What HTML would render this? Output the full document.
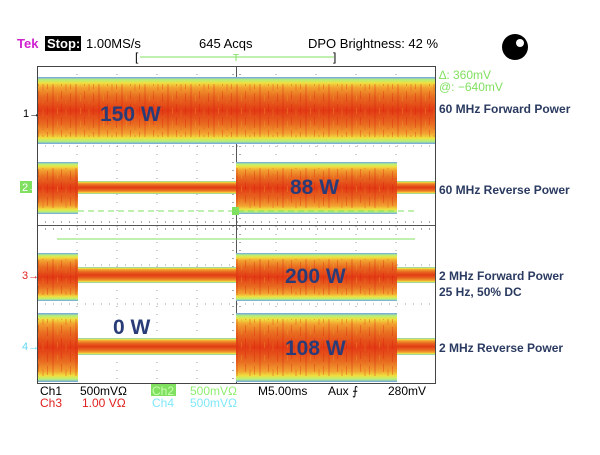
<!DOCTYPE html>
<html><head><meta charset="utf-8"><style>
body{margin:0;background:#fff;}
svg text{font-family:"Liberation Sans",sans-serif;}
</style></head><body>
<svg width="600" height="450" xmlns="http://www.w3.org/2000/svg">
<defs>
<linearGradient id="band" x1="0" y1="0" x2="0" y2="1">
<stop offset="0" stop-color="#6fa0e8"/>
<stop offset="0.04" stop-color="#b6f07a"/>
<stop offset="0.09" stop-color="#f0e040"/>
<stop offset="0.16" stop-color="#f2a030"/>
<stop offset="0.3" stop-color="#e86a20"/>
<stop offset="0.5" stop-color="#e23a14"/>
<stop offset="0.7" stop-color="#e86a20"/>
<stop offset="0.84" stop-color="#f2a030"/>
<stop offset="0.91" stop-color="#f0e040"/>
<stop offset="0.96" stop-color="#b6f07a"/>
<stop offset="1" stop-color="#6fa0e8"/>
</linearGradient>
<pattern id="noise" width="23" height="13" patternUnits="userSpaceOnUse">
<rect x="1" y="2" width="1" height="9" fill="#d81808" opacity="0.3"/>
<rect x="6" y="0" width="2" height="13" fill="#d81808" opacity="0.2"/>
<rect x="11" y="4" width="1" height="6" fill="#f0a030" opacity="0.35"/>
<rect x="15" y="0" width="1" height="8" fill="#d81808" opacity="0.3"/>
<rect x="19" y="5" width="2" height="8" fill="#e86a20" opacity="0.3"/>
</pattern>
</defs>

<!-- header -->
<text x="17" y="48" font-size="13" font-weight="bold" fill="#d020d0">Tek</text>
<rect x="45" y="36" width="36" height="15" fill="#000"/>
<text x="47" y="48" font-size="13" font-weight="bold" fill="#fff">Stop:</text>
<text x="86" y="48" font-size="13" fill="#000">1.00MS/s</text>
<text x="199" y="48" font-size="13" fill="#000">645 Acqs</text>
<text x="308" y="48" font-size="13" fill="#000">DPO Brightness: 42 %</text>
<text x="135" y="61" font-size="12" fill="#000">[</text>
<text x="333" y="61" font-size="12" fill="#000">]</text>
<line x1="140" y1="57" x2="334" y2="57" stroke="#80e060" stroke-width="1"/>
<text x="233" y="61" font-size="10" fill="#80e060">T</text>
<circle cx="515" cy="47" r="13" fill="#000"/>
<circle cx="520" cy="43" r="4" fill="#fff"/>

<!-- graticule -->
<g stroke="#999" stroke-width="1" stroke-dasharray="1,7" fill="none">
<line x1="77" y1="66" x2="77" y2="383"/><line x1="117" y1="66" x2="117" y2="383"/>
<line x1="157" y1="66" x2="157" y2="383"/><line x1="197" y1="66" x2="197" y2="383"/>
<line x1="276" y1="66" x2="276" y2="383"/><line x1="316" y1="66" x2="316" y2="383"/>
<line x1="356" y1="66" x2="356" y2="383"/><line x1="396" y1="66" x2="396" y2="383"/>
<line x1="37" y1="106" x2="436" y2="106"/><line x1="37" y1="146" x2="436" y2="146"/>
<line x1="37" y1="185" x2="436" y2="185"/><line x1="37" y1="265" x2="436" y2="265"/>
<line x1="37" y1="304" x2="436" y2="304"/><line x1="37" y1="344" x2="436" y2="344"/>
</g>
<g stroke="#555" stroke-width="1">
<line x1="236.5" y1="66" x2="236.5" y2="383"/>
<line x1="37" y1="225.5" x2="436" y2="225.5"/>
</g>
<g stroke="#555" stroke-width="1" stroke-dasharray="1,7">
<line x1="37" y1="222" x2="436" y2="222"/><line x1="37" y1="229" x2="436" y2="229"/>
<line x1="233" y1="66" x2="233" y2="383"/><line x1="240" y1="66" x2="240" y2="383"/>
</g>
<rect x="37.5" y="66.5" width="398" height="317" fill="none" stroke="#444" stroke-width="1"/>

<!-- Ch1 -->
<rect x="38" y="77" width="397" height="67" fill="url(#band)"/>
<rect x="38" y="84" width="397" height="53" fill="url(#noise)"/>
<!-- Ch2 -->
<rect x="38" y="162" width="40" height="52" fill="url(#band)"/>
<rect x="38" y="168" width="40" height="40" fill="url(#noise)"/>
<rect x="236" y="162" width="161" height="52" fill="url(#band)"/>
<rect x="236" y="168" width="161" height="40" fill="url(#noise)"/>
<rect x="78" y="181" width="158" height="13" fill="url(#band)"/>
<rect x="397" y="181" width="38" height="13" fill="url(#band)"/>
<line x1="78" y1="211" x2="415" y2="211" stroke="#80e060" stroke-dasharray="6,4"/>
<rect x="232" y="207" width="7" height="8" fill="#80e060"/>
<line x1="57" y1="239" x2="415" y2="239" stroke="#80e060"/>
<!-- Ch3 -->
<rect x="38" y="253" width="40" height="48" fill="url(#band)"/>
<rect x="38" y="259" width="40" height="36" fill="url(#noise)"/>
<rect x="236" y="253" width="161" height="48" fill="url(#band)"/>
<rect x="236" y="259" width="161" height="36" fill="url(#noise)"/>
<rect x="78" y="267" width="158" height="16" fill="url(#band)"/>
<rect x="397" y="267" width="38" height="16" fill="url(#band)"/>
<!-- Ch4 -->
<rect x="38" y="313" width="40" height="69" fill="url(#band)"/>
<rect x="38" y="319" width="40" height="57" fill="url(#noise)"/>
<rect x="236" y="313" width="161" height="69" fill="url(#band)"/>
<rect x="236" y="319" width="161" height="57" fill="url(#noise)"/>
<rect x="78" y="338" width="158" height="17" fill="url(#band)"/>
<rect x="397" y="338" width="38" height="17" fill="url(#band)"/>

<!-- channel markers -->
<text x="23" y="117" font-size="11" fill="#000">1→</text>
<rect x="20" y="181" width="12" height="12" fill="#80e060"/>
<text x="22" y="191" font-size="11" fill="#fff">2→</text>
<text x="22" y="279" font-size="11" fill="#e02020">3→</text>
<text x="22" y="350" font-size="11" fill="#60d8f0">4→</text>

<!-- power labels -->
<g font-size="21" font-weight="bold" fill="#2a3c78">
<text x="100" y="121">150 W</text>
<text x="290" y="194">88 W</text>
<text x="285" y="283">200 W</text>
<text x="113" y="334">0 W</text>
<text x="285" y="355">108 W</text>
</g>

<!-- right text -->
<text x="439" y="79" font-size="12" fill="#80e060">∆: 360mV</text>
<text x="439" y="91" font-size="12" fill="#80e060">@: −640mV</text>
<g font-size="12" font-weight="bold" fill="#2a3a60">
<text x="439" y="113">60 MHz Forward Power</text>
<text x="439" y="194">60 MHz Reverse Power</text>
<text x="439" y="280">2 MHz Forward Power</text>
<text x="439" y="296">25 Hz, 50% DC</text>
<text x="439" y="352">2 MHz Reverse Power</text>
</g>

<!-- footer -->
<g font-size="12">
<text x="40" y="395" fill="#000">Ch1</text>
<text x="80" y="395" fill="#000">500mVΩ</text>
<rect x="151" y="384" width="25" height="12" fill="#80e060"/>
<text x="152" y="395" fill="#c8ffb0">Ch2</text>
<text x="190" y="395" fill="#90ee70">500mVΩ</text>
<text x="258" y="395" fill="#000">M5.00ms</text>
<text x="328" y="395" fill="#000">Aux ⨍</text>
<text x="388" y="395" fill="#000">280mV</text>
<text x="40" y="407" fill="#e02020">Ch3</text>
<text x="82" y="407" fill="#e02020">1.00 VΩ</text>
<text x="152" y="407" fill="#80e8f8">Ch4</text>
<text x="190" y="407" fill="#80e8f8">500mVΩ</text>
</g>
</svg>
</body></html>
